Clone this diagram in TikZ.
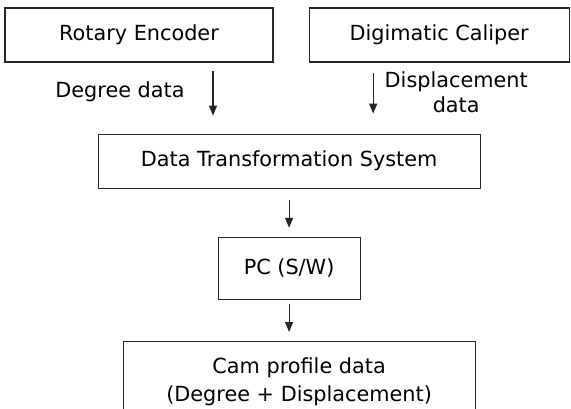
\documentclass[tikz,border=0pt]{standalone}
\usepackage{fontspec}
\setmainfont{DejaVu Sans}
\usetikzlibrary{positioning, arrows.meta, calc}

\begin{document}
\begin{tikzpicture}[
  x=1pt, y=1pt,
  box/.style={draw=black!85, line width=1.2pt, inner sep=0pt, minimum height=54pt,
              align=center, font=\fontsize{20.8}{25}\selectfont},
  arr/.style={-{Triangle[length=10pt, width=8pt]}, line width=1.2pt, color=black!85},
  lbl/.style={inner sep=0pt, align=center, font=\fontsize{20.8}{25}\selectfont},
]
\clip (0,0) rectangle (571,-408);

% --- Sources ---
\node[box, minimum width=268pt] (rot) at (139,-35) {Rotary Encoder};
\node[box, minimum width=260pt, right=35pt of rot] (dig) {Digimatic Caliper};

% --- Processing chain ---
\coordinate (mid) at ($(rot.south)!0.5!(dig.south)$);
\node[box, minimum width=382pt, below=71pt of mid] (dts) {Data Transformation System};
\node[box, minimum width=142pt, minimum height=62pt, below=48pt of dts] (pc) {PC (S/W)};
\node[box, minimum width=352pt, inner ysep=16pt, font=\fontsize{20.8}{28}\selectfont,
      below=41pt of pc, xshift=10pt] (cam) {Cam profile data\\(Degree + Displacement)};

% --- Arrows ---
\coordinate (a1) at ([xshift=74pt]rot.south);
\coordinate (a2) at ([xshift=-66pt]dig.south);
\draw[arr, shorten <=8pt, shorten >=18pt] (a1) -- (a1 |- dts.north);
\draw[arr, shorten <=10pt, shorten >=20pt] (a2) -- (a2 |- dts.north);
\draw[arr, shorten <=11pt, shorten >=9pt] (dts) -- (pc);
\draw[arr, shorten <=4pt, shorten >=9pt] (pc) -- (pc.south |- cam.north);

% --- Labels ---
\node[lbl, below=19pt of rot, xshift=-19pt] (deg) {Degree data};
\node[lbl, below=9pt of dig, xshift=17pt] (disp) {Displacement\\data};

\end{tikzpicture}
\end{document}
